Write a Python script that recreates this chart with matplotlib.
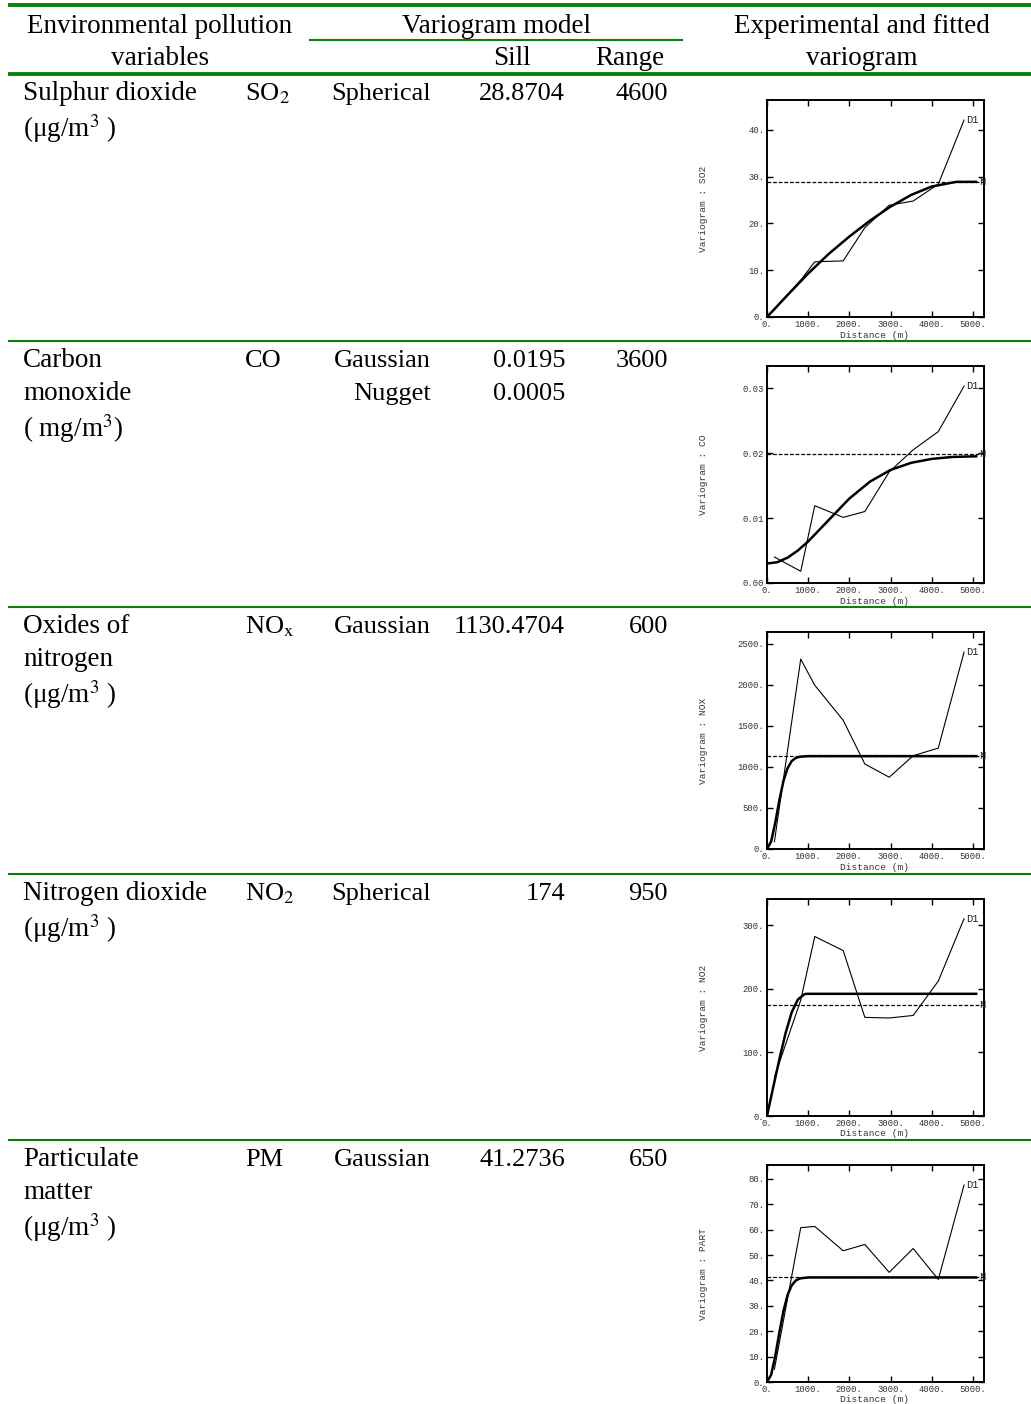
import matplotlib
matplotlib.use("Agg")
import matplotlib.pyplot as plt
from matplotlib.lines import Line2D

plt.rcParams['mathtext.fontset'] = 'stix'

W, H = 1031, 1404
GREEN = '#0a800a'
SERIF = 'Liberation Serif'
MONO = 'Liberation Mono'

# table columns
names = [["Sulphur dioxide"], ["Carbon", "monoxide"], ["Oxides of", "nitrogen"],
         ["Nitrogen dioxide"], ["Particulate", "matter"]]
units = ["(μg/m$^3$ )", "( mg/m$^3$)", "(μg/m$^3$ )", "(μg/m$^3$ )", "(μg/m$^3$ )"]
symbols = ["SO$_2$", "CO", "NO$_\\mathrm{x}$", "NO$_2$", "PM"]
models = [["Spherical"], ["Gaussian", "Nugget"], ["Gaussian"], ["Spherical"], ["Gaussian"]]
sills = [["28.8704"], ["0.0195", "0.0005"], ["1130.4704"], ["174"], ["41.2736"]]
ranges = ["4600", "3600", "600", "950", "650"]
var_codes = ["SO2", "CO", "NOX", "NO2", "PART"]

# experimental variograms (lag distance in m)
lag_dist = [180, 819, 1160, 1850, 2376, 2968, 3550, 4160, 4785]
so2_exp = [1.6, 7.9, 11.8, 12.0, 19.1, 23.9, 24.8, 28.4, 42.1]
co_exp = [0.0040, 0.0018, 0.0119, 0.0101, 0.0110, 0.0171, 0.0205, 0.0233, 0.0303]
nox_exp = [89, 2315, 1996, 1569, 1036, 875, 1137, 1230, 2399]
no2_exp = [61, 182, 282, 260, 155, 154, 158, 212, 310]
pm_exp = [5, 60.8, 61.3, 51.7, 54.2, 43.2, 52.6, 40.4, 77.6]

# fitted models
so2_mx = [0, 500, 1000, 1500, 2000, 2500, 3000, 3500, 4000, 4600, 5080]
so2_my = [0, 4.7, 9.3, 13.5, 17.2, 20.6, 23.6, 26.1, 27.9, 28.9, 28.9]
co_mx = [0, 250, 500, 750, 1000, 1500, 2000, 2500, 3000, 3500, 4000, 4500, 5080]
co_my = [0.0030, 0.0032, 0.0039, 0.0050, 0.0064, 0.0097, 0.0130, 0.0156, 0.0174,
         0.0185, 0.0191, 0.0194, 0.0195]
nox_mx = [0, 100, 200, 300, 400, 500, 600, 700, 800, 1000, 5080]
nox_my = [0, 90, 320, 595, 830, 985, 1072, 1110, 1125, 1132, 1132]
no2_mx = [0, 150, 300, 450, 600, 750, 900, 950, 5080]
no2_my = [0, 45, 89, 130, 163, 183, 191, 192, 192]
pm_mx = [0, 100, 200, 300, 400, 500, 600, 700, 800, 1000, 5080]
pm_my = [0, 2.8, 10.2, 19.5, 28.0, 34.3, 38.1, 40.0, 40.8, 41.2, 41.2]

# sample variance (dashed)
variances = [28.9, 0.0198, 1137, 174, 41.4]

exps = [so2_exp, co_exp, nox_exp, no2_exp, pm_exp]
mods = [(so2_mx, so2_my), (co_mx, co_my), (nox_mx, nox_my), (no2_mx, no2_my), (pm_mx, pm_my)]
ymaxs = [46.4, 0.0334, 2645, 341, 85.5]
yticks = [[0, 10, 20, 30, 40], [0, 0.01, 0.02, 0.03], [0, 500, 1000, 1500, 2000, 2500],
          [0, 100, 200, 300], [0, 10, 20, 30, 40, 50, 60, 70, 80]]
yfmt = ["{:.0f}.", "{:.2f}", "{:.0f}.", "{:.0f}.", "{:.0f}."]
xticks = [0, 1000, 2000, 3000, 4000, 5000]
XMAX = 5270

fig = plt.figure(figsize=(W / 100, H / 100), dpi=100)


def fx(px):
    return px / W


def fy(py):
    return 1 - py / H


def hline(y, x0, x1, lw):
    fig.add_artist(Line2D([fx(x0), fx(x1)], [fy(y), fy(y)], color=GREEN, lw=lw,
                          transform=fig.transFigure))


def txt(x, y, s, ha='left', size=19, **kw):
    fig.text(fx(x), fy(y), s, ha=ha, va='baseline', fontsize=size, family=SERIF, **kw)


# rules
hline(5, 10, W, 2.8)
hline(40, 310, 682, 1.5)
hline(74, 10, W, 2.8)
row_tops = [74, 341, 607, 874, 1140]
for y in row_tops[1:]:
    hline(y, 9, W, 1.5)

# header
txt(160, 33, "Environmental pollution", ha='center', size=19.5)
txt(160, 65, "variables", ha='center', size=19.5)
txt(496, 33, "Variogram model", ha='center', size=19.5)
txt(512, 65, "Sill", ha='center', size=19.5)
txt(630, 65, "Range", ha='center', size=19.5)
txt(862, 33, "Experimental and fitted", ha='center', size=19.5)
txt(862, 65, "variogram", ha='center', size=19.5)

for i, top in enumerate(row_tops):
    base = top + 26
    y = base
    for j, line in enumerate(names[i]):
        y = base + 33 * j
        txt(23, y, line, size=19.5)
    txt(23, y + 37, units[i], size=19.5)
    txt(245, base, symbols[i])
    for j, m in enumerate(models[i]):
        txt(431, base + 33 * j, m, ha='right')
    for j, s in enumerate(sills[i]):
        txt(565, base + 33 * j, s, ha='right')
    txt(668, base, ranges[i], ha='right')

# variogram panels
ax_tops = [100, 366, 632, 899, 1165]
AXL, AXW, AXH = 767, 217, 217
for i in range(5):
    t = ax_tops[i]
    ax = fig.add_axes([fx(AXL), fy(t + AXH), AXW / W, AXH / H])
    ax.plot(lag_dist, exps[i], color='black', lw=0.8)
    ax.plot(mods[i][0], mods[i][1], color='black', lw=1.8)
    ax.axhline(variances[i], color='black', lw=0.9, ls=(0, (3, 1.5)))
    ax.text(lag_dist[-1] + 60, exps[i][-1], "D1", family=MONO, fontsize=7.5,
            ha='left', va='center', color='#222')
    ax.text(5150, variances[i], "N", family=MONO, fontsize=7.5, ha='left',
            va='center', color='#222', clip_on=False)
    ax.set_xlim(0, XMAX)
    ax.set_ylim(0, ymaxs[i])
    ax.set_xticks(xticks)
    ax.set_xticklabels([f"{v}." for v in xticks])
    ax.set_yticks(yticks[i])
    ax.set_yticklabels([yfmt[i].format(v) for v in yticks[i]])
    ax.tick_params(direction='in', length=4, width=1, top=True, right=True,
                   labelsize=6.4, colors='black', labelcolor='#333', pad=2)
    for lab in ax.get_xticklabels() + ax.get_yticklabels():
        lab.set_family(MONO)
    for sp in ax.spines.values():
        sp.set_linewidth(1.4)
    fig.text(fx(703), fy(t + AXH / 2), "Variogram : " + var_codes[i], rotation=90,
             ha='center', va='center', family=MONO, fontsize=6.8, color='#333')
    fig.text(fx(875), fy(t + AXH + 18), "Distance (m)", ha='center', va='center',
             family=MONO, fontsize=6.8, color='#333')

fig.savefig("out.png", dpi=100)
